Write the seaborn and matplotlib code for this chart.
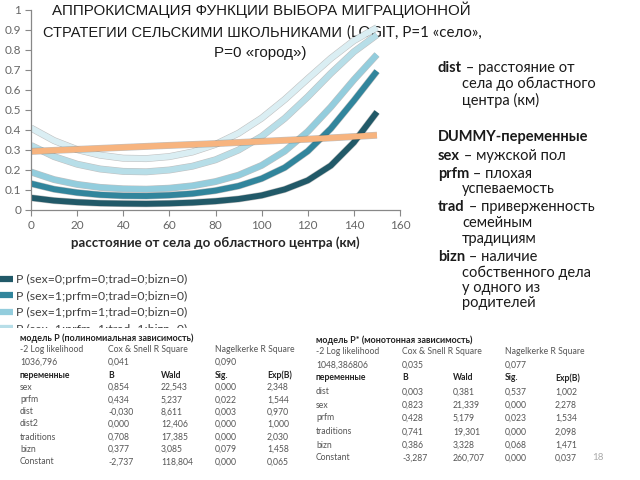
import matplotlib
matplotlib.use('Agg')
import matplotlib.pyplot as plt
import matplotlib.patheffects as pe
from matplotlib.lines import Line2D
import pandas as pd
import seaborn as sns

# ---------------- data ----------------
dist = [0, 10, 20, 30, 40, 50, 60, 70, 80, 90, 100, 110, 120, 130, 140, 150]
p_s0_p0_t0_b0 = [0.061, 0.047, 0.039, 0.034, 0.032, 0.031, 0.033, 0.037, 0.044, 0.055, 0.073, 0.103, 0.148, 0.222, 0.338, 0.490]
p_s1_p0_t0_b0 = [0.132, 0.104, 0.087, 0.076, 0.071, 0.070, 0.074, 0.082, 0.097, 0.120, 0.157, 0.212, 0.294, 0.407, 0.547, 0.694]
p_s1_p1_t0_b0 = [0.190, 0.152, 0.128, 0.113, 0.106, 0.104, 0.109, 0.121, 0.142, 0.174, 0.223, 0.294, 0.392, 0.515, 0.651, 0.777]
p_s1_p1_t1_b0 = [0.323, 0.267, 0.229, 0.205, 0.193, 0.191, 0.200, 0.219, 0.251, 0.300, 0.368, 0.458, 0.566, 0.683, 0.791, 0.876]
p_s1_p1_t1_b1 = [0.410, 0.347, 0.302, 0.274, 0.259, 0.257, 0.267, 0.290, 0.328, 0.384, 0.459, 0.552, 0.656, 0.758, 0.847, 0.912]
dist_mono = [0, 20, 40, 60, 80, 100, 120, 140, 150]
p_mono = [0.293, 0.303, 0.313, 0.323, 0.332, 0.343, 0.354, 0.367, 0.374]

series_labels = ["P (sex=0;prfm=0;trad=0;bizn=0)",
                 "P (sex=1;prfm=0;trad=0;bizn=0)",
                 "P (sex=1;prfm=1;trad=0;bizn=0)",
                 "P (sex=1;prfm=1;trad=1;bizn=0)",
                 "P (sex=1;prfm=1;trad=1;bizn=1)",
                 "P* (sex=1;prfm=1;trad=1;bizn=1)"]
series_colors = ["#215968", "#31859C", "#93CDDD", "#B7DEE8", "#DAEEF3", "#F7B47F"]
n_legend_visible = 4

x_ticks = [0, 20, 40, 60, 80, 100, 120, 140, 160]
y_ticks = [0, 0.1, 0.2, 0.3, 0.4, 0.5, 0.6, 0.7, 0.8, 0.9, 1.0]
y_tick_labels = ["0", "0.1", "0.2", "0.3", "0.4", "0.5", "0.6", "0.7", "0.8", "0.9", "1"]

title_l1 = "АППРОКИСМАЦИЯ ФУНКЦИИ ВЫБОРА МИГРАЦИОННОЙ"
title_l2a = "СТРАТЕГИИ СЕЛЬСКИМИ ШКОЛЬНИКАМИ"
title_l2b = "(LOGIT, P=1 «село»,"
title_l3 = "P=0 «город»)"
x_label = "расстояние от села до областного центра (км)"

side_lines = [
    (438, 68, [("dist", "bold"), (" – расстояние от", "normal")]),
    (462, 84, [("села до областного", "normal")]),
    (462, 100, [("центра (км)", "normal")]),
    (438, 137, [("DUMMY-переменные", "bold")]),
    (438, 156, [("sex", "bold"), (" – мужской пол", "normal")]),
    (438, 174, [("prfm", "bold"), (" – плохая", "normal")]),
    (462, 189, [("успеваемость", "normal")]),
    (438, 207, [("trad", "bold"), (" – приверженность", "normal")]),
    (462, 223, [("семейным", "normal")]),
    (462, 239, [("традициям", "normal")]),
    (438, 257, [("bizn", "bold"), (" – наличие", "normal")]),
    (462, 273, [("собственного дела", "normal")]),
    (462, 288, [("у одного из", "normal")]),
    (462, 303, [("родителей", "normal")]),
]

tab1_title = "модель P (полиномиальная зависимость)"
tab1_rows = [
    ["-2 Log likelihood", "Cox & Snell R Square", "", "Nagelkerke R Square", ""],
    ["1036,796", "0,041", "", "0,090", ""],
    ["переменные", "B", "Wald", "Sig.", "Exp(B)"],
    ["sex", "0,854", "22,543", "0,000", "2,348"],
    ["prfm", "0,434", "5,237", "0,022", "1,544"],
    ["dist", "-0,030", "8,611", "0,003", "0,970"],
    ["dist2", "0,000", "12,406", "0,000", "1,000"],
    ["traditions", "0,708", "17,385", "0,000", "2,030"],
    ["bizn", "0,377", "3,085", "0,079", "1,458"],
    ["Constant", "-2,737", "118,804", "0,000", "0,065"],
]
tab2_title = "модель P* (монотонная зависимость)"
tab2_rows = [
    ["-2 Log likelihood", "Cox & Snell R Square", "", "Nagelkerke R Square", ""],
    ["1048,386806", "0,035", "", "0,077", ""],
    ["переменные", "B", "Wald", "Sig.", "Exp(B)"],
    ["dist", "0,003", "0,381", "0,537", "1,002"],
    ["sex", "0,823", "21,339", "0,000", "2,278"],
    ["prfm", "0,428", "5,179", "0,023", "1,534"],
    ["traditions", "0,741", "19,301", "0,000", "2,098"],
    ["bizn", "0,386", "3,328", "0,068", "1,471"],
    ["Constant", "-3,287", "260,707", "0,000", "0,037"],
]

# ---------------- figure ----------------
sns.set_style("white")
plt.rcParams['font.family'] = ['Lato', 'DejaVu Sans']

W, H = 640, 480
fig = plt.figure(figsize=(6.4, 4.8), dpi=100)
fig.patch.set_facecolor('white')

def fx(x):
    return x / W

def fy(y):
    return 1 - y / H

ax = fig.add_axes([fx(31), fy(210), fx(400) - fx(31), fy(10) - fy(210)])
ax.patch.set_alpha(0)

curves = [p_s0_p0_t0_b0, p_s1_p0_t0_b0, p_s1_p1_t0_b0, p_s1_p1_t1_b0, p_s1_p1_t1_b1]
frames = []
for lab, vals in zip(series_labels[:5], curves):
    frames.append(pd.DataFrame({"dist": dist, "p": vals, "series": lab}))
frames.append(pd.DataFrame({"dist": dist_mono, "p": p_mono, "series": series_labels[5]}))
df = pd.concat(frames, ignore_index=True)

palette = dict(zip(series_labels, series_colors))
sns.lineplot(data=df, x="dist", y="p", hue="series", hue_order=series_labels,
             palette=palette, linewidth=4.2, legend=False, ax=ax, sort=False)
for ln in ax.get_lines():
    ln.set_solid_capstyle('butt')
    ln.set_path_effects([pe.Stroke(linewidth=5.0, foreground=(0.2, 0.2, 0.2, 0.3)), pe.Normal()])

ax.set_xlim(0, 160)
ax.set_ylim(0, 1)
ax.set_xticks(x_ticks)
ax.set_yticks(y_ticks, labels=y_tick_labels)
ax.set_xlabel(x_label, fontsize=9.5, fontweight='bold', color='#262626', labelpad=4)
ax.set_ylabel("")
for s in ['top', 'right']:
    ax.spines[s].set_visible(False)
for s in ['left', 'bottom']:
    ax.spines[s].set_color('#888888')
    ax.spines[s].set_linewidth(0.9)
ax.tick_params(axis='both', direction='out', length=4, width=0.8, color='#888888',
               labelcolor='#666666', labelsize=8.5, pad=3, left=True, bottom=True)
ax.grid(False)

handles = [Line2D([0], [0], color=c, lw=4.5, solid_capstyle='butt')
           for c in series_colors[:n_legend_visible]]
ax.legend(handles, series_labels[:n_legend_visible], loc='upper left',
          bbox_to_anchor=(fx(0), fy(274)),
          bbox_transform=fig.transFigure, frameon=False, fontsize=8.8,
          handlelength=1.1, handletextpad=0.2, labelspacing=0.45, borderpad=0,
          borderaxespad=0, labelcolor='#404040')

# ---------------- title ----------------
fig.canvas.draw()
rend = fig.canvas.get_renderer()

def fit_width(t, target):
    w = t.get_window_extent(rend).width
    t.set_fontsize(t.get_fontsize() * target / w)
    return t

tfont = ['Liberation Sans Narrow', 'Liberation Sans', 'DejaVu Sans']
kw_t = dict(family=tfont, color='#1a1a1a', zorder=-1)
t1 = fig.text(fx(261), fy(15), title_l1, ha='center', va='baseline', fontsize=12, **kw_t)
fit_width(t1, 418)
size_big = t1.get_fontsize()
tb = fig.text(0, fy(37), title_l2b, ha='left', va='baseline', fontsize=10,
              family=['Lato', 'DejaVu Sans'], color='#1a1a1a', zorder=-1)
fit_width(tb, 135)
wb = tb.get_window_extent(rend).width
gap = 5
ta = fig.text(fx(43), fy(37), title_l2a, ha='left', va='baseline', fontsize=size_big, **kw_t)
fit_width(ta, 482 - wb - gap - 43)
tb.set_x(fx(482 - wb))
fig.text(fx(260), fy(57), title_l3, ha='center', va='baseline', fontsize=size_big, **kw_t)

# ---------------- side text ----------------
side_font = ['Lato', 'DejaVu Sans']
for x, y, parts in side_lines:
    cx = x
    for txt, wt in parts:
        t = fig.text(fx(cx), fy(y), txt, ha='left', va='center', fontsize=10.5,
                     fontweight=wt, family=side_font, color='#1a1a1a')
        cx += t.get_window_extent(rend).width

# ---------------- tables ----------------
ax_tab = fig.add_axes([0, 0, 1, fy(328)])
ax_tab.set_zorder(5)
ax_tab.set_facecolor('white')
ax_tab.set_xticks([])
ax_tab.set_yticks([])
for s in ax_tab.spines.values():
    s.set_visible(False)

def draw_table(title, rows, x_cols, y_title, y_rows):
    ax_tab.text(fx(x_cols[0]), fy(y_title), title, transform=fig.transFigure,
                ha='left', va='center', fontsize=6.5, fontweight='bold', color='#222222')
    for r, (row, yy) in enumerate(zip(rows, y_rows)):
        bold = (r == 2)
        for c, (cell, xx) in enumerate(zip(row, x_cols)):
            if not cell:
                continue
            ax_tab.text(fx(xx), fy(yy), cell, transform=fig.transFigure,
                        ha='left', va='center', fontsize=6.2,
                        fontweight='bold' if bold else 'normal',
                        color='#222222' if bold else '#555555')

draw_table(tab1_title, tab1_rows, [20, 108, 161, 215, 267], 338,
           [350, 362, 375, 387, 400, 412, 424, 437, 449, 462])
draw_table(tab2_title, tab2_rows, [316, 402, 453, 505, 555], 340,
           [352, 365, 378, 392, 405, 418, 432, 445, 458])
ax_tab.text(fx(592), fy(458), "18", transform=fig.transFigure, ha='left', va='center',
            fontsize=7, color='#aaaaaa')

fig.savefig("out.png", dpi=100, facecolor='white')
